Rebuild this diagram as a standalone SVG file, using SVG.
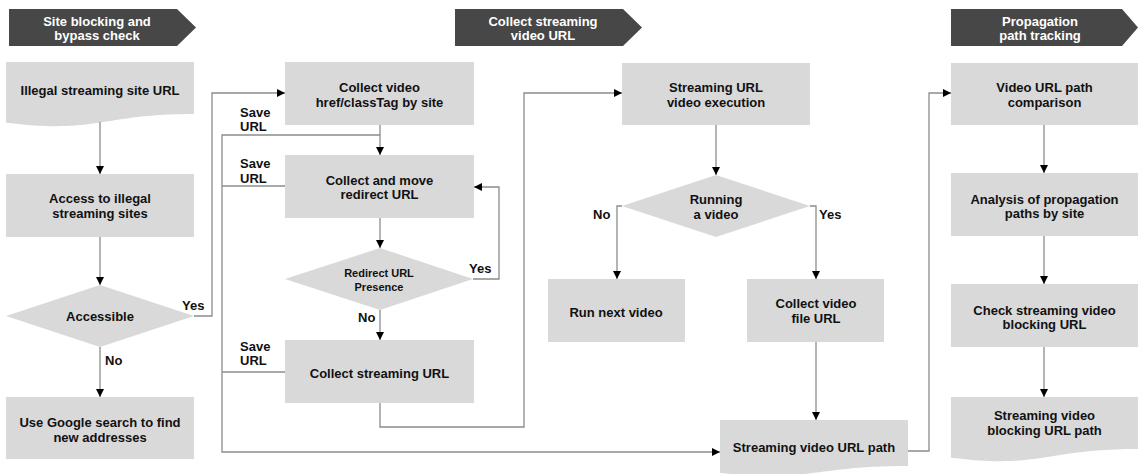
<svg xmlns="http://www.w3.org/2000/svg" width="1140" height="474" viewBox="0 0 1140 474">
<defs>
<marker id="ah" markerUnits="userSpaceOnUse" markerWidth="9" markerHeight="9" refX="8" refY="4" orient="auto">
<path d="M0,0 L8,4 L0,8 z" fill="#000"/>
</marker>
<style>
.box{fill:#d9d9d9;}
.hdr{fill:#474747;}
.t{font-family:"Liberation Sans",Arial,sans-serif;font-weight:bold;font-size:13px;fill:#111;text-anchor:middle;}
.ts{font-family:"Liberation Sans",Arial,sans-serif;font-weight:bold;font-size:11px;fill:#111;text-anchor:middle;}
.th{font-family:"Liberation Sans",Arial,sans-serif;font-weight:bold;font-size:13px;fill:#fff;text-anchor:middle;}
.l{font-family:"Liberation Sans",Arial,sans-serif;font-weight:bold;font-size:13px;fill:#111;}
.c{fill:none;stroke:#8c8c8c;stroke-width:1.3;}
.a{marker-end:url(#ah);}
</style>
</defs>
<rect width="1140" height="474" fill="#fff"/>

<g id="hdr1"><polygon class="hdr" points="9,9 177,9 196,27.5 177,46 9,46"/><text class="th" x="97" y="26">Site blocking and</text><text class="th" x="97" y="40">bypass check</text></g>
<g id="hdr2"><polygon class="hdr" points="455,9 623,9 642,27.5 623,46 455,46"/><text class="th" x="543" y="26">Collect streaming</text><text class="th" x="543" y="40">video URL</text></g>
<g id="hdr3"><polygon class="hdr" points="951,9 1122,9 1138,27.5 1122,46 951,46"/><text class="th" x="1040" y="26">Propagation</text><text class="th" x="1040" y="40">path tracking</text></g>

<g id="n1"><path class="box" d="M6,62 H194 V114 C100,114 100,134 6,122.7 Z"/><text class="t" x="100" y="95">Illegal streaming site URL</text></g>
<g id="n2"><rect class="box" x="6" y="174" width="188" height="63"/><text class="t" x="100" y="203">Access to illegal</text><text class="t" x="100" y="218">streaming sites</text></g>
<g id="n3"><polygon class="box" points="100,285 194,316 100,347 6,316"/><text class="t" x="100" y="321">Accessible</text></g>
<g id="n4"><rect class="box" x="6" y="397" width="188" height="62"/><text class="t" x="100" y="427">Use Google search to find</text><text class="t" x="100" y="442">new addresses</text></g>

<g id="n5"><rect class="box" x="285" y="62" width="189" height="63"/><text class="t" x="379.5" y="92">Collect video</text><text class="t" x="379.5" y="107">href/classTag by site</text></g>
<g id="n6"><rect class="box" x="285" y="155" width="189" height="63"/><text class="t" x="379.5" y="185">Collect and move</text><text class="t" x="379.5" y="199">redirect URL</text></g>
<g id="n7"><polygon class="box" points="380,248 473,279 380,310 285,279"/><text class="ts" x="379" y="277">Redirect URL</text><text class="ts" x="379" y="291">Presence</text></g>
<g id="n8"><rect class="box" x="285" y="340" width="189" height="63"/><text class="t" x="379.5" y="378">Collect streaming URL</text></g>

<g id="n9"><rect class="box" x="622" y="63" width="188" height="62"/><text class="t" x="716" y="92">Streaming URL</text><text class="t" x="716" y="107">video execution</text></g>
<g id="n10"><polygon class="box" points="716,175 810,206 716,237 622,206"/><text class="t" x="716" y="204">Running</text><text class="t" x="716" y="219">a video</text></g>
<g id="n11"><rect class="box" x="548" y="279" width="137" height="63"/><text class="t" x="616" y="317">Run next video</text></g>
<g id="n12"><rect class="box" x="747" y="279" width="137" height="63"/><text class="t" x="816" y="308">Collect video</text><text class="t" x="816" y="323">file URL</text></g>
<g id="n13"><path class="box" d="M720,420 H908 V466 C814,466 814,482 720,473 Z"/><text class="t" x="814" y="452">Streaming video URL path</text></g>

<g id="n14"><rect class="box" x="951" y="63" width="187" height="62"/><text class="t" x="1044.5" y="92">Video URL path</text><text class="t" x="1044.5" y="107">comparison</text></g>
<g id="n15"><rect class="box" x="951" y="173" width="187" height="63"/><text class="t" x="1044.5" y="204">Analysis of propagation</text><text class="t" x="1044.5" y="218">paths by site</text></g>
<g id="n16"><rect class="box" x="951" y="284" width="187" height="63"/><text class="t" x="1044.5" y="315">Check streaming video</text><text class="t" x="1044.5" y="329">blocking URL</text></g>
<g id="n17"><path class="box" d="M951,397 H1138 V449 C1044,449 1044,469 951,457.7 Z"/><text class="t" x="1044.5" y="420">Streaming video</text><text class="t" x="1044.5" y="435">blocking URL path</text></g>

<g id="connectors">
<path class="c a" d="M100,122 V174"/>
<path class="c a" d="M100,237 V285"/>
<path class="c a" d="M100,347 V397"/>
<path class="c a" d="M194,316 H212 V93 H285"/>
<path class="c a" d="M380,125 V155"/>
<path class="c a" d="M380,135 H222 V452 H720"/>
<path class="c" d="M222,186 H285"/>
<path class="c" d="M222,372 H285"/>
<path class="c a" d="M380,218 V248"/>
<path class="c a" d="M473,279 H499 V187 H474"/>
<path class="c a" d="M380,310 V340"/>
<path class="c a" d="M380,403 V427 H524 V93 H622"/>
<path class="c a" d="M716,125 V175"/>
<path class="c a" d="M622,206 H617 V279"/>
<path class="c a" d="M810,206 H816 V279"/>
<path class="c a" d="M816,342 V420"/>
<path class="c a" d="M908,451 H929 V93 H951"/>
<path class="c a" d="M1044,125 V173"/>
<path class="c a" d="M1044,236 V284"/>
<path class="c a" d="M1044,347 V397"/>
</g>

<g id="labels">
<text class="l" x="182" y="310">Yes</text>
<text class="l" x="105" y="365">No</text>
<text class="l" x="240" y="117">Save</text><text class="l" x="240" y="131">URL</text>
<text class="l" x="240" y="168">Save</text><text class="l" x="240" y="183">URL</text>
<text class="l" x="240" y="351">Save</text><text class="l" x="240" y="365">URL</text>
<text class="l" x="469" y="273">Yes</text>
<text class="l" x="358" y="322">No</text>
<text class="l" x="593" y="219">No</text>
<text class="l" x="819" y="219">Yes</text>
</g>
</svg>
